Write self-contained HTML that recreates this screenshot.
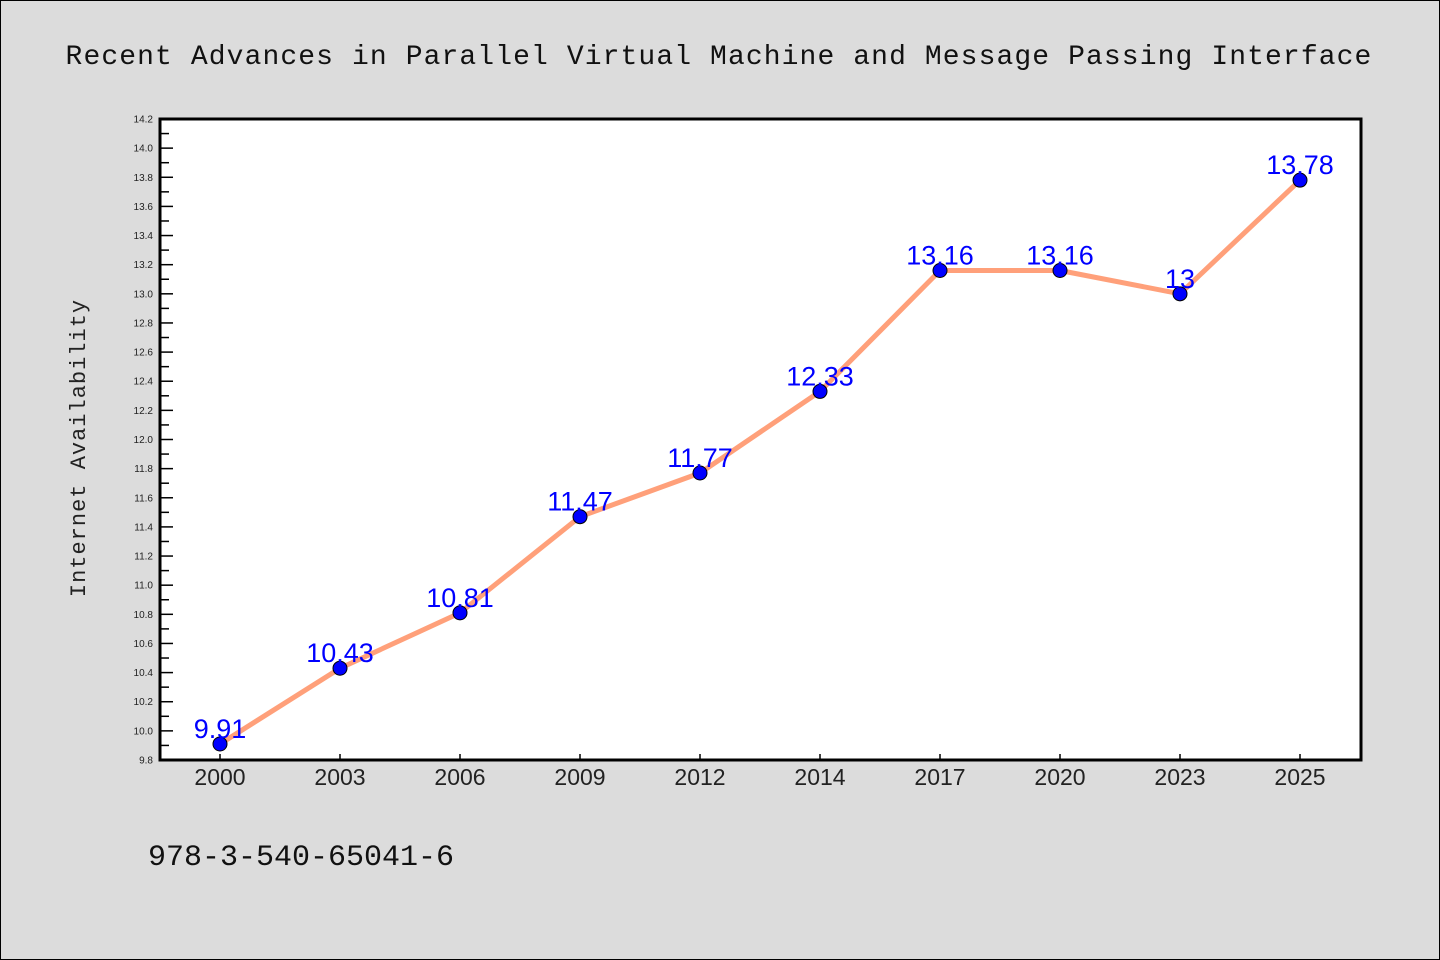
<!DOCTYPE html>
<html><head><meta charset="utf-8"><style>
body{margin:0;background:#dcdcdc;}
svg{display:block;}
</style></head><body>
<svg id="chart" width="1440" height="960" xmlns="http://www.w3.org/2000/svg">
<rect x="0.5" y="0.5" width="1439" height="959" fill="#dcdcdc" stroke="#000" stroke-width="1"/>
<text x="719" y="64" text-anchor="middle" font-family="Liberation Mono, monospace" font-size="28" letter-spacing="1.1" fill="#111">Recent Advances in Parallel Virtual Machine and Message Passing Interface</text>
<rect x="160" y="119" width="1201" height="641" fill="#fff"/>
<g id="marks"></g>
<rect x="160" y="119" width="1201" height="641" fill="none" stroke="#000" stroke-width="3"/>
<text transform="translate(85,448) rotate(-90)" text-anchor="middle" font-family="Liberation Mono, monospace" font-size="22" letter-spacing="1" fill="#222">Internet Availability</text>
<text x="148" y="865" font-family="Liberation Mono, monospace" font-size="30" fill="#111">978-3-540-65041-6</text>
</svg>
<script>
const categories = ["2000","2003","2006","2009","2012","2014","2017","2020","2023","2025"];
const values = [9.91,10.43,10.81,11.47,11.77,12.33,13.16,13.16,13,13.78];
const yTicks = [9.8,10.0,10.2,10.4,10.6,10.8,11.0,11.2,11.4,11.6,11.8,12.0,12.2,12.4,12.6,12.8,13.0,13.2,13.4,13.6,13.8,14.0,14.2];
const valueLabels = ["9.91","10.43","10.81","11.47","11.77","12.33","13.16","13.16","13","13.78"];
const NS="http://www.w3.org/2000/svg";
const yMin=9.8,yMax=14.2,plotTop=119,plotBot=760,plotLeft=160;
function yScale(v){return plotBot-(v-yMin)/(yMax-yMin)*(plotBot-plotTop);}
function xScale(i){return 220+i*120;}
const g=document.getElementById('marks');
function mk(t,a){const e=document.createElementNS(NS,t);for(const k in a)e.setAttribute(k,a[k]);return e;}
yTicks.forEach((v,i)=>{
  const y=yScale(v);
  const t=mk('line',{x1:plotLeft,x2:plotLeft+13,y1:y,y2:y,stroke:'#000','stroke-width':1.5});
  
  
  g.appendChild(t);
  if(i<yTicks.length-1){const ym=(y+yScale(yTicks[i+1]))/2;
    const m=mk('line',{x1:plotLeft,x2:plotLeft+9,y1:ym,y2:ym,stroke:'#000','stroke-width':1.5});
    
    
    g.appendChild(m);}
  const l=mk('text',{x:153,y:y+3.5,'text-anchor':'end','font-family':'Liberation Sans, sans-serif','font-size':10,fill:'#222'});
  l.textContent=v.toFixed(1);
  
  
  g.appendChild(l);
});
categories.forEach((c,i)=>{
  const x=xScale(i);
  const t=mk('line',{x1:x,x2:x,y1:plotBot,y2:plotBot-6,stroke:'#000','stroke-width':1.5});
  
  
  g.appendChild(t);
  const l=mk('text',{x:x,y:785,'text-anchor':'middle','font-family':'Liberation Sans, sans-serif','font-size':23,fill:'#222'});
  l.textContent=c;
  
  
  g.appendChild(l);
});
const pts=values.map((v,i)=>xScale(i)+','+yScale(v)).join(' ');
const line=mk('polyline',{points:pts,fill:'none',stroke:'#ffa07a','stroke-width':5,'stroke-linejoin':'round'});


g.appendChild(line);
values.forEach((v,i)=>{
  const c=mk('circle',{cx:xScale(i),cy:yScale(v),r:7,fill:'#0000ff',stroke:'#000','stroke-width':1});
  
  
  g.appendChild(c);
  const l=mk('text',{x:xScale(i),y:yScale(v)-6,'text-anchor':'middle','font-family':'Liberation Sans, sans-serif','font-size':27,fill:'#0000ff'});
  l.textContent=valueLabels[i];
  
  
  g.appendChild(l);
});
</script>
</body></html>
